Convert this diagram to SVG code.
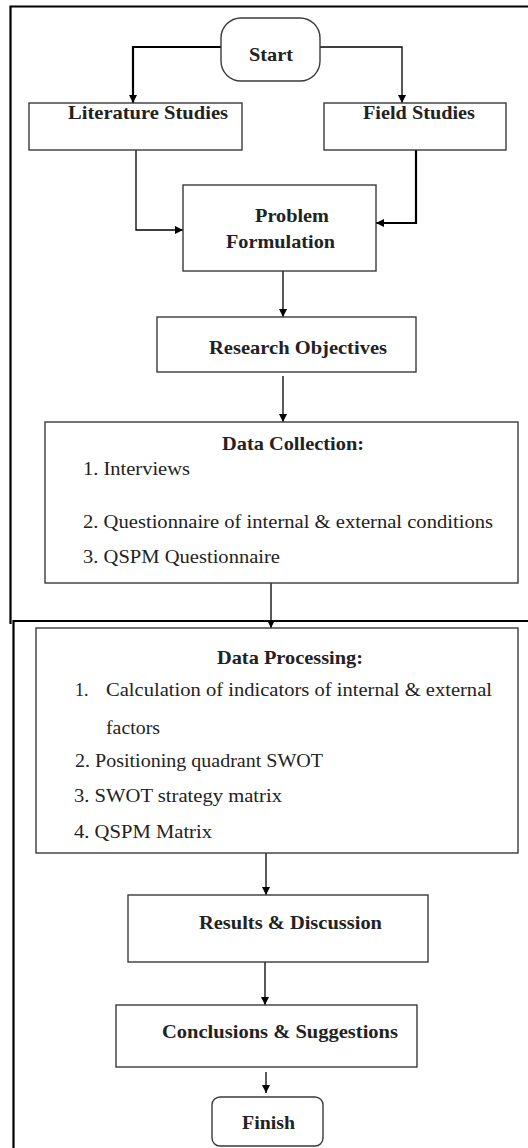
<svg xmlns="http://www.w3.org/2000/svg" width="528" height="1148" viewBox="0 0 528 1148">
<style>
.box{fill:#fff;stroke:#3a3a3a;stroke-width:1.4}
.frame{fill:none;stroke:#000;stroke-width:2.2}
.b{font-family:"Liberation Serif","Times New Roman","DejaVu Serif",serif;font-weight:bold;font-size:19px;fill:#222}
.r{font-family:"Liberation Serif","Times New Roman","DejaVu Serif",serif;font-size:18px;fill:#222}
.c{fill:none;stroke:#000;stroke-width:1.3}
.ct{fill:none;stroke:#000;stroke-width:2.2}
</style>
<defs>
<marker id="ah" markerUnits="userSpaceOnUse" markerWidth="9" markerHeight="9" refX="8" refY="4" orient="auto">
<path d="M0,0 L8,4 L0,8 z" fill="#000"/>
</marker>
</defs>
<rect width="528" height="1148" fill="#fff"/>
<g id="frames">
<path class="frame" d="M10.5,624 V6.5 H530"/>
<path class="frame" d="M13.5,1150 V621 H530"/>
</g>
<g id="connectors">
<path class="ct" d="M221,47 H133 V103" marker-end="url(#ah)"/>
<path class="c" d="M320,47 H402 V103" marker-end="url(#ah)"/>
<path class="c" d="M136,150 V230 H183" marker-end="url(#ah)"/>
<path class="ct" d="M416,150 V223 H376" marker-end="url(#ah)"/>
<path class="c" d="M283,271 V317" marker-end="url(#ah)"/>
<path class="c" d="M283,376 V422" marker-end="url(#ah)"/>
<path class="c" d="M271,579 V628" marker-end="url(#ah)"/>
<path class="c" d="M266,848 V895" marker-end="url(#ah)"/>
<path class="c" d="M265,960 V1005" marker-end="url(#ah)"/>
<path class="c" d="M266,1072 V1093" marker-end="url(#ah)"/>
</g>
<g id="start">
<rect class="box" x="221" y="18" width="99" height="63" rx="20" ry="20"/>
<text class="b" x="249" y="61" textLength="44" lengthAdjust="spacingAndGlyphs">Start</text>
</g>
<g id="literature">
<rect class="box" x="29" y="103" width="213" height="47"/>
<text class="b" x="68" y="119" textLength="160" lengthAdjust="spacingAndGlyphs">Literature Studies</text>
</g>
<g id="field">
<rect class="box" x="324" y="103" width="182" height="47"/>
<text class="b" x="363" y="119" textLength="112" lengthAdjust="spacingAndGlyphs">Field Studies</text>
</g>
<g id="problem">
<rect class="box" x="183" y="185" width="193" height="86"/>
<text class="b" x="255" y="222" textLength="74" lengthAdjust="spacingAndGlyphs">Problem</text>
<text class="b" x="226" y="248" textLength="109" lengthAdjust="spacingAndGlyphs">Formulation</text>
</g>
<g id="research">
<rect class="box" x="157" y="317" width="259" height="55"/>
<text class="b" x="209" y="354" textLength="178" lengthAdjust="spacingAndGlyphs">Research Objectives</text>
</g>
<g id="collection">
<rect class="box" x="45" y="422" width="473" height="161"/>
<text class="b" x="222" y="450" textLength="142" lengthAdjust="spacingAndGlyphs">Data Collection:</text>
<text class="r" x="83" y="475" textLength="107" lengthAdjust="spacingAndGlyphs">1. Interviews</text>
<text class="r" x="83" y="528" textLength="410" lengthAdjust="spacingAndGlyphs">2. Questionnaire of internal &amp; external conditions</text>
<text class="r" x="83" y="563" textLength="197" lengthAdjust="spacingAndGlyphs">3. QSPM Questionnaire</text>
</g>
<g id="processing">
<rect class="box" x="36" y="628" width="482" height="225"/>
<text class="b" x="217" y="664" textLength="146" lengthAdjust="spacingAndGlyphs">Data Processing:</text>
<text class="r" x="75" y="696">1.</text>
<text class="r" x="106" y="696" textLength="386" lengthAdjust="spacingAndGlyphs">Calculation of indicators of internal &amp; external</text>
<text class="r" x="106" y="734" textLength="54" lengthAdjust="spacingAndGlyphs">factors</text>
<text class="r" x="75" y="767" textLength="248" lengthAdjust="spacingAndGlyphs">2. Positioning quadrant SWOT</text>
<text class="r" x="74" y="802" textLength="208" lengthAdjust="spacingAndGlyphs">3. SWOT strategy matrix</text>
<text class="r" x="74" y="838" textLength="138" lengthAdjust="spacingAndGlyphs">4. QSPM Matrix</text>
</g>
<g id="results">
<rect class="box" x="128" y="895" width="300" height="67"/>
<text class="b" x="199" y="929" textLength="183" lengthAdjust="spacingAndGlyphs">Results &amp; Discussion</text>
</g>
<g id="conclusions">
<rect class="box" x="116" y="1005" width="301" height="62"/>
<text class="b" x="162" y="1038" textLength="236" lengthAdjust="spacingAndGlyphs">Conclusions &amp; Suggestions</text>
</g>
<g id="finish">
<rect class="box" x="212" y="1097" width="111" height="49" rx="8" ry="8"/>
<text class="b" x="242" y="1129" textLength="53" lengthAdjust="spacingAndGlyphs">Finish</text>
</g>
</svg>
